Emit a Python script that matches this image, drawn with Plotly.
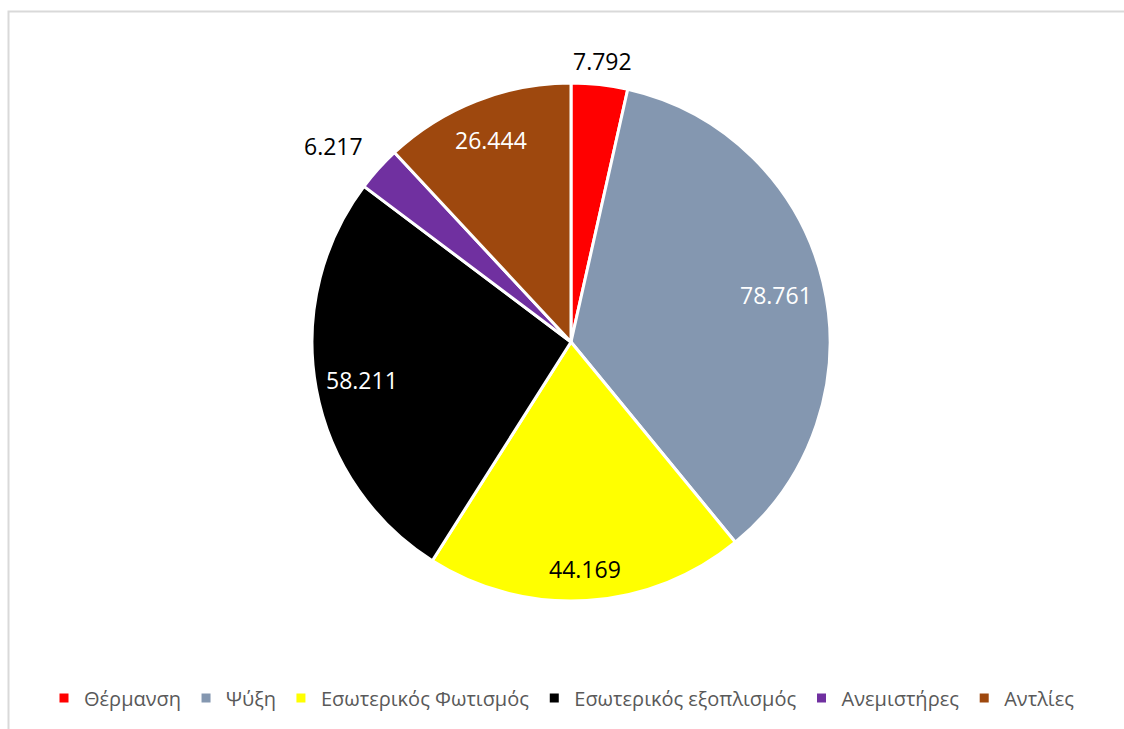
import math
import plotly.graph_objects as go

# Energy use by category
categories = ["Θέρμανση", "Ψύξη", "Εσωτερικός Φωτισμός",
              "Εσωτερικός εξοπλισμός", "Ανεμιστήρες", "Αντλίες"]
values = [7.792, 78.761, 44.169, 58.211, 6.217, 26.444]
value_labels = ["7.792", "78.761", "44.169", "58.211", "6.217", "26.444"]

colors = ["#FF0000", "#8497B0", "#FFFF00", "#000000", "#7030A0", "#9E480E"]
label_colors = ["#000000", "#FFFFFF", "#000000", "#FFFFFF", "#000000", "#FFFFFF"]
# radial placement of each value label, as a fraction of the pie radius
label_radius = [1.09, 0.81, 0.88, 0.82, 1.19, 0.84]
# small angular nudge (degrees) for each value label
label_shift = [0.0, 0.5, 0.0, 0.0, -2.5, 0.0]

W, H = 1124, 729
CX, CY, R = 571, 342, 259  # pie centre and radius in pixels

FONT = "Open Sans, Noto Sans, sans-serif"

fig = go.Figure(go.Pie(
    labels=categories,
    values=values,
    sort=False,
    direction="clockwise",
    rotation=0,
    marker=dict(colors=colors, line=dict(color="#FFFFFF", width=3)),
    textinfo="none",
    hoverinfo="label+value",
    domain=dict(x=[(CX - R) / W, (CX + R) / W],
                y=[(H - CY - R) / H, (H - CY + R) / H]),
))

# value labels placed at the middle angle of each slice
total = sum(values)
cum = 0.0
annotations = []
for v, txt, col, rf, sh in zip(values, value_labels, label_colors,
                               label_radius, label_shift):
    mid = (cum + v / 2) / total * 2 * math.pi + math.radians(sh)
    cum += v
    px = CX + R * rf * math.sin(mid)
    py = CY - R * rf * math.cos(mid)
    annotations.append(dict(
        x=px / W, y=(H - py) / H, xref="paper", yref="paper",
        text=txt, showarrow=False, xanchor="center", yanchor="middle",
        font=dict(family=FONT, size=23, color=col),
    ))

fig.update_layout(
    width=W, height=H,
    margin=dict(l=0, r=0, t=0, b=0),
    paper_bgcolor="#FFFFFF",
    plot_bgcolor="#FFFFFF",
    annotations=annotations,
    showlegend=True,
    legend=dict(
        orientation="h",
        x=0.5, xanchor="center",
        y=(H - 698) / H, yanchor="middle",
        font=dict(family=FONT, size=20, color="#595959"),
        itemwidth=30,
        tracegroupgap=0,
    ),
    shapes=[dict(
        type="rect", xref="paper", yref="paper",
        x0=8.5 / W, x1=1.01, y0=-0.01, y1=(H - 11.5) / H,
        line=dict(color="#D9D9D9", width=2),
        fillcolor="rgba(0,0,0,0)",
    )],
)

fig.write_html("out.html")
